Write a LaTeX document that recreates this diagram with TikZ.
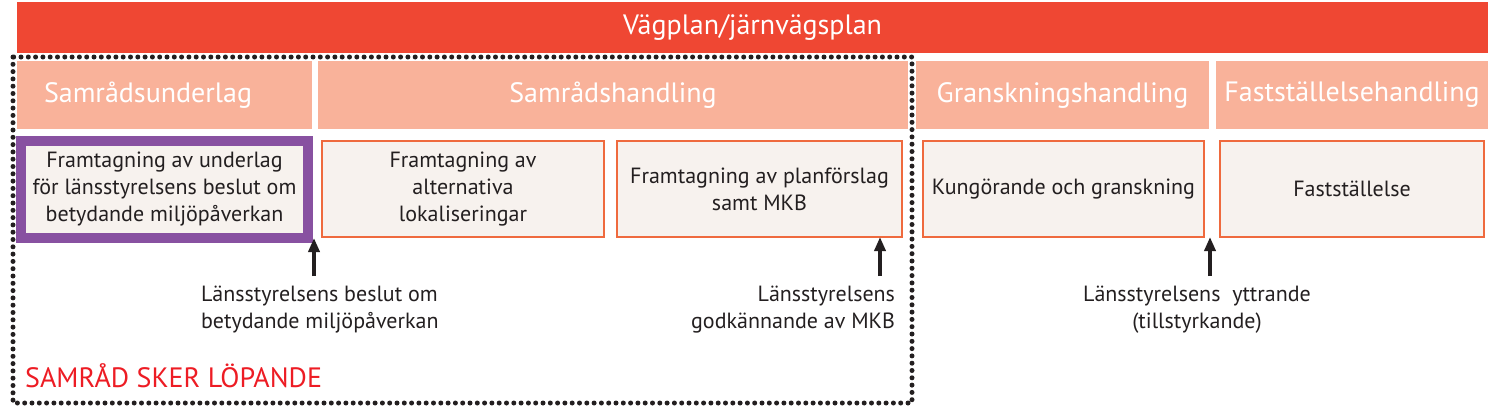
\documentclass[tikz,border=0pt]{standalone}
\usepackage{fontspec}
\setmainfont{PT Sans}
\usetikzlibrary{arrows.meta}
\definecolor{barred}{RGB}{239,71,51}
\definecolor{salmon}{RGB}{249,178,154}
\definecolor{taskedge}{RGB}{239,106,62}
\definecolor{taskfill}{RGB}{247,242,238}
\definecolor{purpleedge}{RGB}{136,81,161}
\definecolor{ink}{RGB}{35,31,32}
\definecolor{signred}{RGB}{237,28,36}

\begin{document}
\begin{tikzpicture}[x=1pt,y=1pt,yscale=-1,
	bar/.style={fill=barred,text=white,anchor=north west,inner sep=0pt,outer sep=0pt,minimum height=51pt,font=\fontsize{28}{32}\selectfont},
	phase/.style={fill=salmon,text=white,anchor=north west,inner sep=0pt,outer sep=0pt,minimum height=68pt,font=\fontsize{28}{32}\selectfont},
	task/.style={draw=taskedge,line width=2pt,fill=taskfill,anchor=north west,inner sep=0pt,outer sep=0pt,minimum height=96pt,align=center,text=ink,font=\fontsize{22}{27}\selectfont},
	note/.style={inner sep=0pt,outer sep=0pt,text=ink,font=\fontsize{22}{27}\selectfont},
	up/.style={-{Triangle[length=14pt,width=11pt]},line width=3.5pt,draw=ink},
	dotline/.style={draw=ink,line width=5pt,line cap=round,dash pattern=on 0pt off 7.3pt}]
	\useasboundingbox (0,0) rectangle (1499,418);
	\node[bar,minimum width=1471pt] (title) at (17,2) {Vägplan/järnvägsplan};
	\node[phase,text width=241pt,inner xsep=27pt,align=left] (samu) at (17,61) {Samrådsunderlag};
	\node[phase,minimum width=590pt] (samh) at (318,61) {Samrådshandling};
	\node[phase,minimum width=293pt] (gransk) at (916,61) {Granskningshandling};
	\node[phase,minimum width=272pt] (fast) at (1216,61) {Fastställelsehandling};
	\node[task,draw=purpleedge,line width=10pt,minimum width=287pt,minimum height=97pt] (under) at (21,141) {Framtagning av underlag\\för länsstyrelsens beslut om\\betydande miljöpåverkan};
	\node[task,minimum width=282pt] (alt) at (322,141) {Framtagning av\\alternativa\\lokaliseringar};
	\node[task,minimum width=285pt] (plan) at (617,141) {Framtagning av planförslag\\samt MKB};
	\node[task,minimum width=281pt] (kung) at (923,141) {Kungörande och granskning};
	\node[task,minimum width=264pt] (faststall) at (1220,141) {Fastställelse};
	\node[note,anchor=north west,align=left] (beslut) at (201,286) {Länsstyrelsens beslut om\\betydande miljöpåverkan};
	\node[note,anchor=north east,align=right] (godk) at (895,286) {Länsstyrelsens\\godkännande av MKB};
	\node[note,anchor=north,align=center] (yttr) at (1197,286) {Länsstyrelsens~ yttrande\\(tillstyrkande)};
	\node[inner sep=0pt,anchor=base west,text=signred,font=\fontsize{28}{32}\selectfont] (samrad) at (25,387) {SAMRÅD SKER LÖPANDE};
	\coordinate (a1) at (314,276);
	\coordinate (a2) at (880,276);
	\coordinate (a3) at (1210,276);
	\draw[up] (a1) -- (a1 |- under.south);
	\draw[up] (a2) -- (a2 |- plan.south);
	\draw[up] (a3) -- (a3 |- kung.south);
	\draw[dotline] (13,57) rectangle (912,403);
\end{tikzpicture}
\end{document}
